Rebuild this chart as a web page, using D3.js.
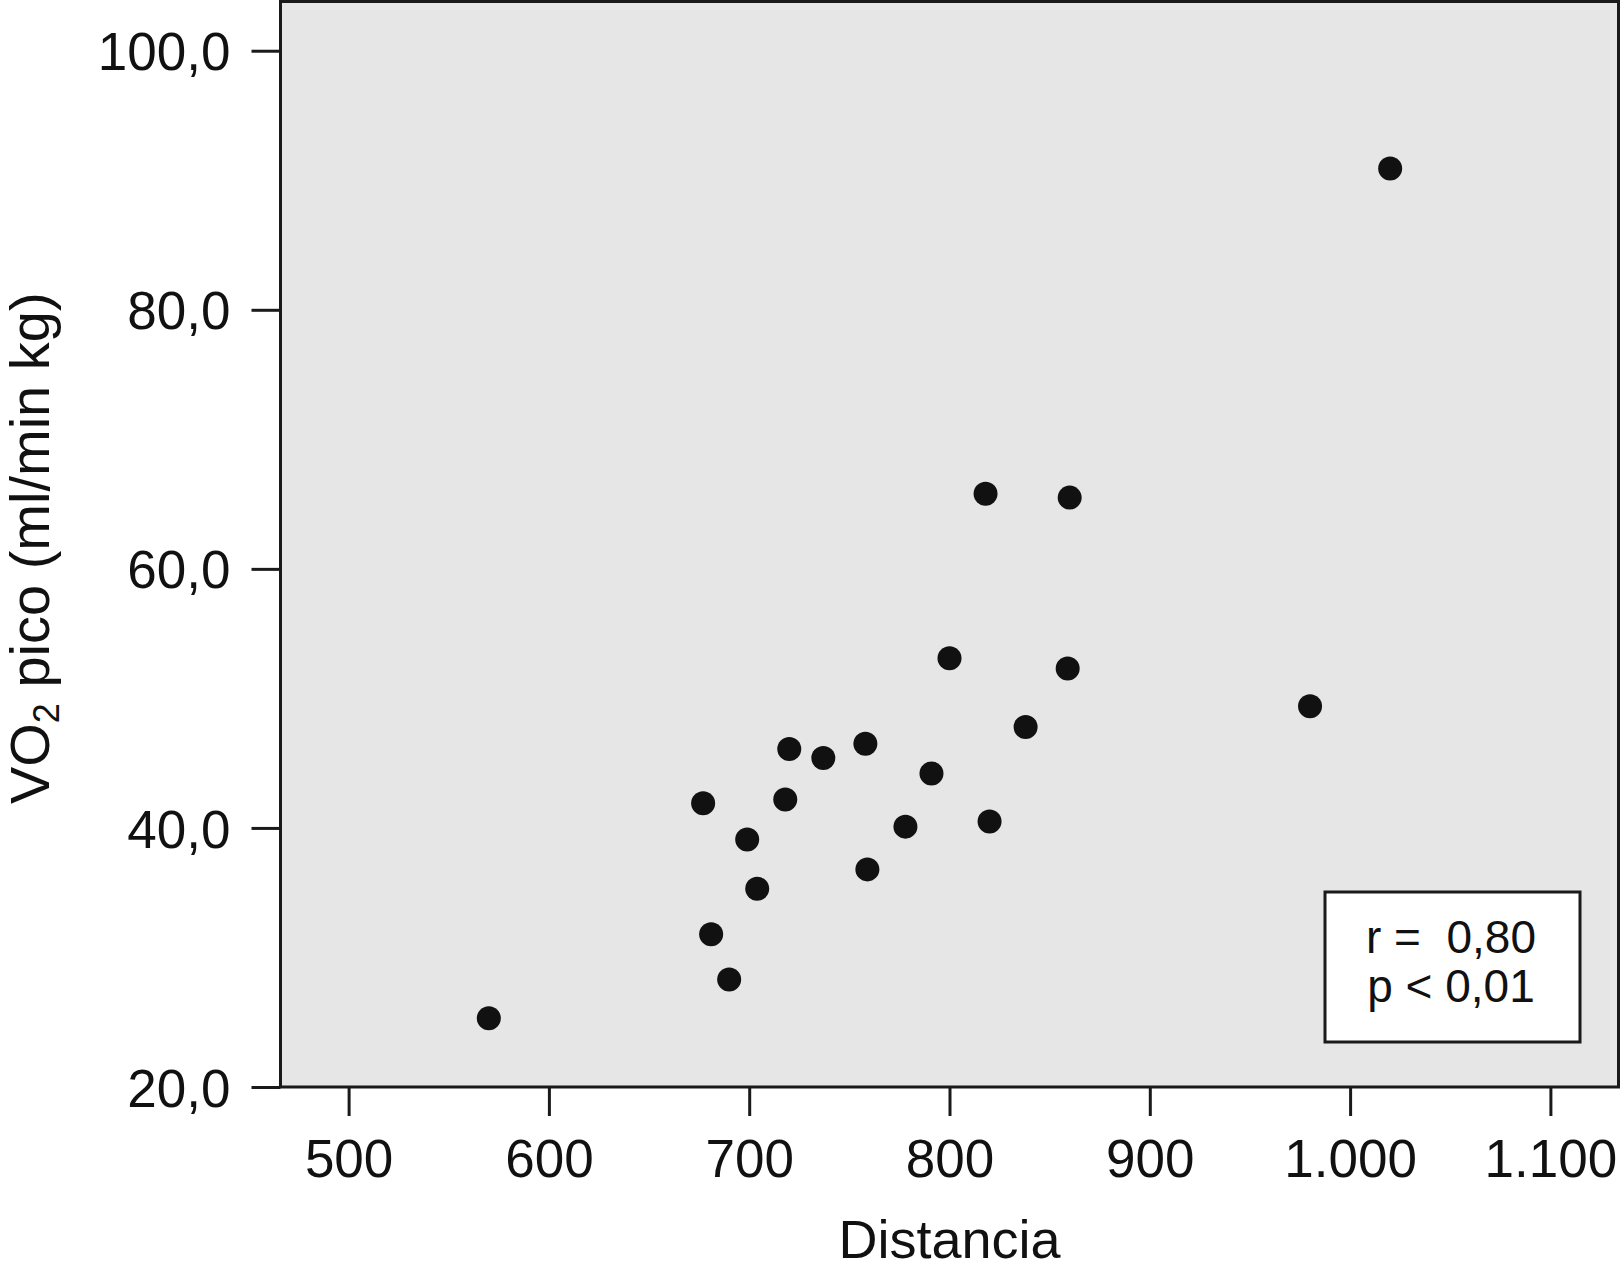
<!DOCTYPE html>
<html>
<head>
<meta charset="utf-8">
<script src="https://cdn.jsdelivr.net/npm/d3@7"></script>
<style>
  body { margin: 0; background: #fff; }
  svg { display: block; font-family: "Liberation Sans", Arial, sans-serif; }
</style>
</head>
<body>
<svg id="chart" width="1621" height="1277"></svg>
<script>
// Data
const distancia = [570, 677, 681, 690, 699, 704, 718, 720, 737, 758, 759, 778, 791, 800, 818, 820, 838, 859, 860, 980, 1020];
const vo2pico = [25.3, 41.9, 31.8, 28.3, 39.1, 35.3, 42.2, 46.1, 45.4, 46.5, 36.8, 40.1, 44.2, 53.1, 65.8, 40.5, 47.8, 52.3, 65.5, 49.4, 90.9];
const xTicks = [500, 600, 700, 800, 900, 1000, 1100];
const yTicks = [20, 40, 60, 80, 100];
const statLines = ["r =  0,80", "p < 0,01"];

const points = distancia.map((d, i) => ({ x: d, y: vo2pico[i] }));

// spanish number format: comma decimal, dot thousands
const es = d3.formatLocale({ decimal: ",", thousands: ".", grouping: [3], currency: ["", " €"] });

const svg = d3.select("#chart");

// plot area edges
const plotL = 280.5, plotR = 1618.5, plotT = 1.5, plotB = 1087;

const x = d3.scaleLinear().domain([466, 1134]).range([plotL, plotR]);
const y = d3.scaleLinear().domain([20, 103.8]).range([plotB, plotT]);

// plot background + frame
svg.append("rect")
  .attr("x", plotL)
  .attr("y", plotT)
  .attr("width", plotR - plotL)
  .attr("height", plotB - plotT)
  .attr("fill", "#e6e6e6")
  .attr("stroke", "#1a1a1a")
  .attr("stroke-width", 3);

// y axis
const yAxis = svg.append("g")
  .attr("transform", `translate(${plotL},0)`)
  .call(d3.axisLeft(y).tickValues(yTicks).tickSize(29).tickPadding(21).tickFormat(es.format(".1f")));

// x axis
const xAxis = svg.append("g")
  .attr("transform", `translate(0,${plotB})`)
  .call(d3.axisBottom(x).tickValues(xTicks).tickSize(29).tickPadding(23).tickFormat(es.format(",d")));

[yAxis, xAxis].forEach(g => {
  g.select(".domain").remove();
  g.selectAll(".tick line").attr("stroke", "#1a1a1a").attr("stroke-width", 3);
  g.selectAll(".tick text").attr("fill", "#111").style("font-size", "53px").style("font-family", "Liberation Sans, Arial, sans-serif");
});
yAxis.selectAll(".tick text").attr("dy", "0.36em");

// points
svg.append("g")
  .selectAll("circle")
  .data(points)
  .join("circle")
  .attr("cx", d => x(d.x))
  .attr("cy", d => y(d.y))
  .attr("r", 12)
  .attr("fill", "#111");

// stats box
const box = svg.append("g");
box.append("rect")
  .attr("x", 1325)
  .attr("y", 892)
  .attr("width", 255)
  .attr("height", 150)
  .attr("fill", "#fff")
  .attr("stroke", "#1a1a1a")
  .attr("stroke-width", 3);
box.selectAll("text")
  .data(statLines)
  .join("text")
  .attr("x", 1451)
  .attr("y", (d, i) => 953 + i * 48.5)
  .attr("text-anchor", "middle")
  .attr("fill", "#111")
  .style("font-size", "46px")
  .style("white-space", "pre")
  .text(d => d);

// axis titles
svg.append("text")
  .attr("x", (plotL + plotR) / 2)
  .attr("y", 1258)
  .attr("text-anchor", "middle")
  .attr("fill", "#111")
  .style("font-size", "54px")
  .text("Distancia");

const yTitle = svg.append("text")
  .attr("transform", `translate(49,${(plotT + plotB) / 2 + 4}) rotate(-90)`)
  .attr("text-anchor", "middle")
  .attr("fill", "#111")
  .style("font-size", "56px");
yTitle.append("tspan").text("VO");
yTitle.append("tspan").attr("dy", 10).style("font-size", "36px").text("2");
yTitle.append("tspan").attr("dy", -10).text(" pico (ml/min kg)");
</script>
</body>
</html>
